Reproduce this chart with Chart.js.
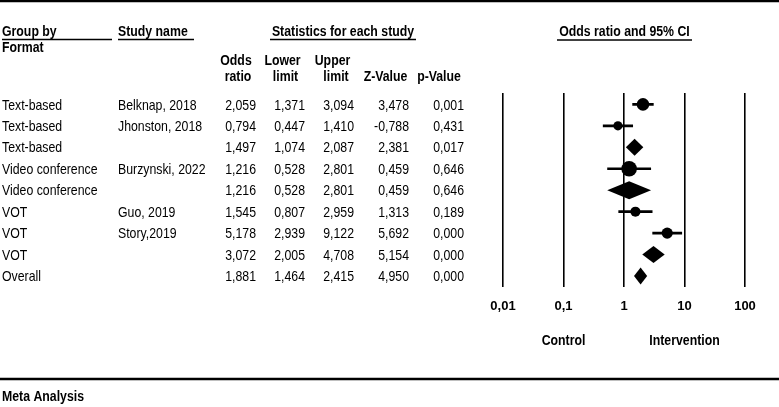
<!DOCTYPE html>
<html>
<head>
<meta charset="utf-8">
<script src="https://cdn.jsdelivr.net/npm/chart.js@4/dist/chart.umd.min.js"></script>
<style>
  html, body { margin: 0; padding: 0; background: #fff; }
  canvas { display: block; }
</style>
</head>
<body>
<canvas id="grafico" width="779" height="407"></canvas>
<script>
const grupos = ["Text-based", "Text-based", "Text-based", "Video conference", "Video conference", "VOT", "VOT", "VOT", "Overall"];
const estudos = ["Belknap, 2018", "Jhonston, 2018", "", "Burzynski, 2022", "", "Guo, 2019", "Story,2019", "", ""];
const oddsRatio = [2.059, 0.794, 1.497, 1.216, 1.216, 1.545, 5.178, 3.072, 1.881];
const limInf = [1.371, 0.447, 1.074, 0.528, 0.528, 0.807, 2.939, 2.005, 1.464];
const limSup = [3.094, 1.410, 2.087, 2.801, 2.801, 2.959, 9.122, 4.708, 2.415];
const zValor = [3.478, -0.788, 2.381, 0.459, 0.459, 1.313, 5.692, 5.154, 4.950];
const pValor = [0.001, 0.431, 0.017, 0.646, 0.646, 0.189, 0.000, 0.000, 0.000];
const tickValores = [0.01, 0.1, 1, 10, 100];
const tickNomes = ["0,01", "0,1", "1", "10", "100"];

const FONTE = '"Liberation Sans", Arial, sans-serif';
const ESTREITO = 0.82; // simula Arial Narrow

function fmt(v) {
  return v.toFixed(3).replace(".", ",");
}

// linhas dos intervalos de confiança (só estudos)
const datasets = [];
estudos.forEach((e, i) => {
  if (e === "") return;
  datasets.push({
    data: [{ x: limInf[i], y: i }, { x: limSup[i], y: i }],
    showLine: true,
    borderColor: "#000",
    borderWidth: 2.6,
    pointRadius: 0
  });
});

const raios = { 0: 6.3, 1: 4.6, 3: 7.8, 5: 5, 6: 5.6 };
const pontos = [];
const pontosRaio = [];
estudos.forEach((e, i) => {
  if (e === "") return;
  pontos.push({ x: oddsRatio[i], y: i });
  pontosRaio.push(raios[i]);
});
datasets.push({
  data: pontos,
  pointRadius: pontosRaio,
  pointHoverRadius: pontosRaio,
  pointBackgroundColor: "#000",
  pointBorderWidth: 0
});

const losangos = {
  id: "losangos",
  afterDatasetsDraw(chart) {
    const ctx = chart.ctx;
    const xs = chart.scales.x, ys = chart.scales.y;
    ctx.save();
    ctx.fillStyle = "#000";
    estudos.forEach((e, i) => {
      if (e !== "") return;
      const y = ys.getPixelForValue(i);
      const h = i === 4 ? 9 : 8.5;
      ctx.beginPath();
      ctx.moveTo(xs.getPixelForValue(limInf[i]), y);
      ctx.lineTo(xs.getPixelForValue(oddsRatio[i]), y - h);
      ctx.lineTo(xs.getPixelForValue(limSup[i]), y);
      ctx.lineTo(xs.getPixelForValue(oddsRatio[i]), y + h);
      ctx.closePath();
      ctx.fill();
    });
    ctx.restore();
  }
};

const tabela = {
  id: "tabela",
  afterDraw(chart) {
    const ctx = chart.ctx;
    const xs = chart.scales.x, ys = chart.scales.y;
    ctx.save();
    ctx.fillStyle = "#000";
    ctx.strokeStyle = "#000";
    ctx.textBaseline = "middle";

    function texto(t, x, y, al, negrito) {
      ctx.save();
      ctx.font = (negrito ? "bold " : "") + "15px " + FONTE;
      ctx.textAlign = al;
      ctx.translate(x, y);
      ctx.scale(ESTREITO, 1);
      ctx.fillText(t, 0, 0);
      ctx.restore();
    }
    function linha(x1, y1, x2, y2, w) {
      ctx.lineWidth = w;
      ctx.beginPath();
      ctx.moveTo(x1, y1);
      ctx.lineTo(x2, y2);
      ctx.stroke();
    }

    // bordas
    linha(0, 1, 779, 1, 2.6);
    linha(0, 379, 779, 379, 2.6);

    // cabeçalhos
    texto("Group by", 2, 32, "left", true);
    linha(2, 39.5, 112, 39.5, 1.3);
    texto("Format", 2, 48, "left", true);
    texto("Study name", 118, 32, "left", true);
    linha(118, 39.5, 194, 39.5, 1.3);
    texto("Statistics for each study", 343, 32, "center", true);
    linha(270, 39.5, 416, 39.5, 1.3);
    texto("Odds ratio and 95% CI", 624.5, 32, "center", true);
    linha(557, 40, 692, 40, 1.3);

    texto("Odds", 236, 61, "center", true);
    texto("ratio", 238, 77, "center", true);
    texto("Lower", 282.5, 61, "center", true);
    texto("limit", 285.5, 77, "center", true);
    texto("Upper", 332.5, 61, "center", true);
    texto("limit", 336, 77, "center", true);
    texto("Z-Value", 385.5, 77, "center", true);
    texto("p-Value", 439, 77, "center", true);

    // linhas da tabela
    grupos.forEach((g, i) => {
      const y = ys.getPixelForValue(i) + 1;
      texto(g, 2, y, "left", false);
      texto(estudos[i], 118, y, "left", false);
      texto(fmt(oddsRatio[i]), 256, y, "right", false);
      texto(fmt(limInf[i]), 305, y, "right", false);
      texto(fmt(limSup[i]), 354, y, "right", false);
      texto(fmt(zValor[i]), 409, y, "right", false);
      texto(fmt(pValor[i]), 464, y, "right", false);
    });

    texto("Control", xs.getPixelForValue(0.1), 341, "center", true);
    texto("Intervention", xs.getPixelForValue(10), 341, "center", true);
    texto("Meta Analysis", 2, 397, "left", true);
    ctx.restore();
  }
};

Chart.defaults.color = "#000";

new Chart(document.getElementById("grafico"), {
  type: "scatter",
  data: { datasets: datasets },
  options: {
    responsive: false,
    animation: false,
    devicePixelRatio: 1,
    layout: { padding: { left: 503, right: 34, top: 93, bottom: 82 } },
    plugins: {
      legend: { display: false },
      tooltip: { enabled: false }
    },
    scales: {
      x: {
        type: "logarithmic",
        min: 0.01,
        max: 100,
        afterBuildTicks: (s) => { s.ticks = tickValores.map(v => ({ value: v })); },
        grid: { color: "#000", lineWidth: 1.6, drawTicks: false },
        border: { display: false },
        ticks: {
          padding: 11,
          autoSkip: false,
          maxRotation: 0,
          font: { family: FONTE, size: 13, weight: "bold" },
          callback: (v) => tickNomes[tickValores.indexOf(v)]
        }
      },
      y: {
        type: "linear",
        min: -0.53,
        max: 8.53,
        reverse: true,
        display: false
      }
    }
  },
  plugins: [losangos, tabela]
});
</script>
</body>
</html>
